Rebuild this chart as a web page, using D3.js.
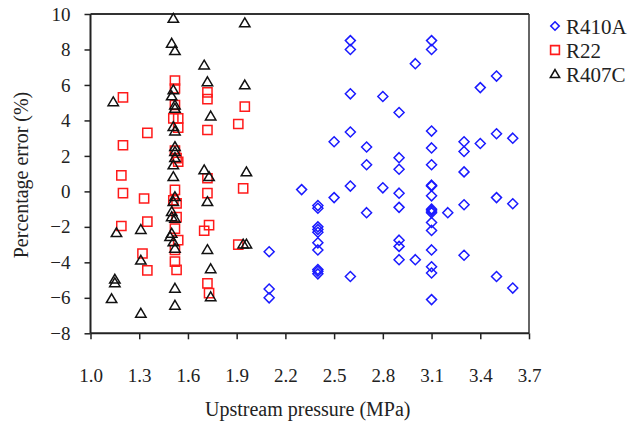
<!DOCTYPE html>
<html><head><meta charset="utf-8">
<script src="https://cdn.jsdelivr.net/npm/d3@7"></script>
<style>body{margin:0;background:#fff}svg{display:block}svg text{font-family:"Liberation Serif","Times New Roman","DejaVu Serif",serif !important;fill:#222}</style>
</head><body><svg id="c" width="631" height="424"></svg>
<script>
const xTicks = [1.0,1.3,1.6,1.9,2.2,2.5,2.8,3.1,3.4,3.7];
const yTicks = [-8,-6,-4,-2,0,2,4,6,8,10];
const seriesNames = ["R410A","R22","R407C"];

// R410A: [pressure, error]
const r410a = [
 [2.1,-3.4],[2.1,-5.5],[2.1,-6.0],
 [2.3,0.1],
 [2.4,-0.8],[2.4,-0.95],[2.4,-2.0],[2.4,-2.15],[2.4,-2.3],[2.4,-2.9],[2.4,-3.3],[2.4,-4.4],[2.4,-4.5],[2.4,-4.65],
 [2.5,2.8],[2.5,-0.35],
 [2.6,8.5],[2.6,8.0],[2.6,5.5],[2.6,3.35],[2.6,0.3],[2.6,-4.8],
 [2.7,2.5],[2.7,1.5],[2.7,-1.2],
 [2.8,5.35],[2.8,0.2],
 [2.9,4.45],[2.9,1.9],[2.9,1.25],[2.9,-0.1],[2.9,-0.9],[2.9,-2.75],[2.9,-3.1],[2.9,-3.85],
 [3.0,7.2],[3.0,-3.85],
 [3.1,8.5],[3.1,8.0],[3.1,3.4],[3.1,2.45],[3.1,1.5],[3.1,0.35],[3.1,0.3],[3.1,-0.25],[3.1,-1.0],[3.1,-1.1],[3.1,-1.2],[3.1,-1.75],[3.1,-2.2],[3.1,-3.3],[3.1,-4.25],[3.1,-4.6],[3.1,-6.1],
 [3.2,-1.2],
 [3.3,2.8],[3.3,2.25],[3.3,1.1],[3.3,-0.75],[3.3,-3.6],
 [3.4,5.85],[3.4,2.7],
 [3.5,6.5],[3.5,3.25],[3.5,-0.35],[3.5,-4.8],
 [3.6,3.0],[3.6,-0.7],[3.6,-5.45]
];
const r22 = [
 [1.2,5.3],[1.2,2.6],[1.19,0.9],[1.2,-0.1],[1.19,-1.95],
 [1.33,-0.4],[1.32,-3.5],
 [1.35,3.3],[1.35,-1.7],[1.35,-4.45],
 [1.52,6.25],[1.52,5.8],[1.52,4.87],[1.51,4.12],[1.54,4.12],[1.54,3.6],[1.52,2.3],[1.53,1.87],[1.54,1.67],
 [1.52,0.08],[1.51,-0.5],[1.53,-0.68],[1.53,-1.45],[1.52,-2.1],[1.54,-2.75],[1.52,-3.3],[1.52,-3.96],[1.53,-4.43],
 [1.72,5.58],[1.72,5.2],[1.72,3.46],[1.72,0.74],[1.72,-0.1],[1.73,-1.9],[1.70,-2.22],[1.72,-5.18],[1.73,-5.74],
 [1.91,3.8],[1.91,-3.0],
 [1.95,4.78],[1.94,0.17]
];
const r407c = [
 [1.14,5.05],[1.16,-2.33],[1.15,-4.95],[1.15,-5.15],[1.13,-6.05],
 [1.31,-2.15],[1.31,-3.88],[1.31,-6.87],
 [1.51,9.75],[1.50,8.35],[1.52,7.93],[1.51,5.72],[1.50,5.38],[1.52,4.87],[1.52,4.68],[1.51,3.65],[1.52,3.4],
 [1.52,2.52],[1.52,2.24],[1.52,1.9],[1.51,1.49],[1.51,0.83],[1.52,-0.3],[1.51,-0.58],
 [1.50,-1.14],[1.50,-1.43],[1.52,-1.52],[1.50,-2.36],[1.49,-2.55],[1.51,-2.85],[1.52,-3.21],[1.52,-5.46],[1.52,-6.42],
 [1.70,7.12],[1.72,6.18],[1.74,4.25],[1.70,1.21],[1.73,0.83],[1.72,-0.58],[1.72,-3.28],[1.74,-4.36],[1.74,-5.94],
 [1.95,9.5],[1.95,6.0],[1.96,1.1],[1.94,-2.97],[1.96,-2.97]
];

const FONT = '"Liberation Serif","Times New Roman","DejaVu Serif",serif';
const svg = d3.select("#c");
const L=90.5, R=529, T=14, B=333.3;
const x = d3.scaleLinear().domain([1.0,3.7]).range([L,R]);
const y = d3.scaleLinear().domain([-8,10]).range([B,T]);

const colors = {R410A:"#1a1aff", R22:"#ff1a1a", R407C:"#111"};
function diamond(cx,cy,s){return `M${cx},${cy-s}L${cx+s},${cy}L${cx},${cy+s}L${cx-s},${cy}Z`;}
function square(cx,cy,s){return `M${cx-s},${cy-s}H${cx+s}V${cy+s}H${cx-s}Z`;}
function tri(cx,cy,s){return `M${cx},${cy-s*0.95}L${cx+s},${cy+s*0.75}L${cx-s},${cy+s*0.75}Z`;}

// frame
svg.append("line").attr("x1",L).attr("x2",R).attr("y1",T).attr("y2",T).attr("stroke","#333").attr("stroke-width",2);
svg.append("line").attr("x1",R).attr("x2",R).attr("y1",T).attr("y2",B).attr("stroke","#333").attr("stroke-width",1.5);

// axes
const xAxis = svg.append("g").attr("transform",`translate(0,${B})`)
 .call(d3.axisBottom(x).tickValues(xTicks).tickFormat(d3.format(".1f")).tickSize(6).tickPadding(29));
const yAxis = svg.append("g").attr("transform",`translate(${L},0)`)
 .call(d3.axisLeft(y).tickValues(yTicks).tickFormat(d3.format("d")).tickSize(6).tickPadding(14));
[xAxis,yAxis].forEach(g=>{
 g.attr("font-family",FONT).attr("font-size",19);
 g.select(".domain").attr("stroke","#222").attr("stroke-width",2);
 g.selectAll(".tick line").attr("stroke","#222").attr("stroke-width",1.5);
 g.selectAll(".tick text").attr("fill","#222").attr("font-family",FONT).style("font-size","19px");
});
xAxis.select(".domain").attr("d",`M${L},0H${R}`);
yAxis.select(".domain").attr("d",`M0,${T}V${B}`);

// points
const pts = svg.append("g").attr("fill","none").attr("stroke-width",1.5);
pts.selectAll(".d").data(r410a).join("path").attr("stroke",colors.R410A)
 .attr("d",d=>diamond(x(d[0]),y(d[1]),5));
pts.selectAll(".s").data(r22).join("path").attr("stroke",colors.R22)
 .attr("d",d=>square(x(d[0]),y(d[1]),4.6));
pts.selectAll(".t").data(r407c).join("path").attr("stroke",colors.R407C)
 .attr("d",d=>tri(x(d[0]),y(d[1]),5.2));

// legend
const lg = svg.append("g");
const shapes = [diamond, square, tri];
const sizes = [4.2,4.4,4.6];
seriesNames.forEach((n,i)=>{
 const cy = 26 + i*24;
 lg.append("path").attr("d",shapes[i](555,cy,sizes[i])).attr("fill","none").attr("stroke",colors[n]).attr("stroke-width",1.6);
 lg.append("text").attr("x",566).attr("y",cy+7.5).attr("font-family",FONT).style("font-size","21px").text(n);
});

// titles
svg.append("text").attr("x",(L+R)/2 - 2).attr("y",416).attr("text-anchor","middle").attr("font-family",FONT).style("font-size","20px").text("Upstream pressure (MPa)");
svg.append("text").attr("transform","translate(28,175) rotate(-90)").attr("text-anchor","middle").attr("font-family",FONT).style("font-size","20px").text("Percentage error (%)");
</script></body></html>
